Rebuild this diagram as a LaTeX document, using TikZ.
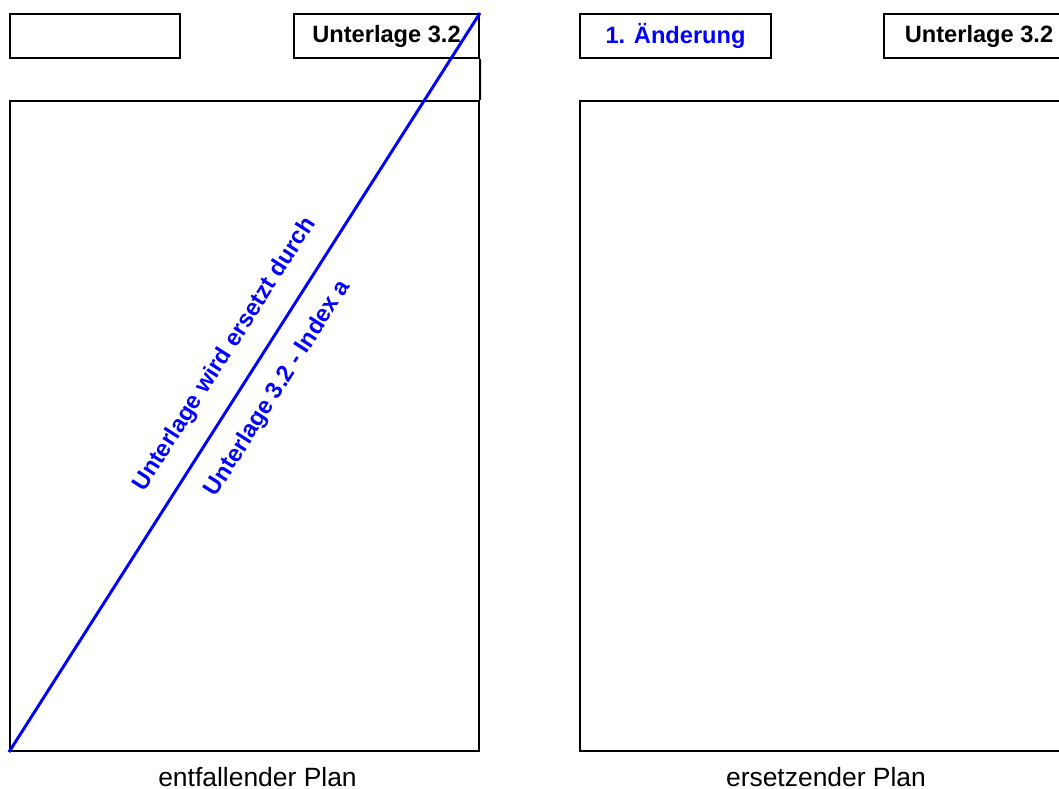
\documentclass[tikz,border=0pt]{standalone}
\usepackage{fontspec}
\setmainfont{Liberation Sans}
\usetikzlibrary{positioning}
\newcommand\schrift{\fontsize{16.8}{19}\selectfont}
\newcommand\unterschrift{\fontsize{18.8}{21}\selectfont}
\tikzset{
  feld/.style={rectangle,draw,line width=1.4pt,minimum height=1.1cm,inner sep=0pt,font=\schrift\bfseries},
  plan/.style={rectangle,draw,line width=1.4pt,minimum height=16.25cm},
  strich/.style={draw=blue,line width=2.1pt},
  vermerk/.style={text=blue,font=\schrift\bfseries,sloped,inner sep=0pt},
  planname/.style={inner sep=0pt,font=\unterschrift}
}
\begin{document}
\begin{tikzpicture}[x=0.025cm,y=-0.025cm,font=\schrift]
  \useasboundingbox (0,0) rectangle (1059,789);
  % entfallender Plan
  \node[feld,minimum width=4.25cm] (lleer) at (95,36) {};
  \node[feld,minimum width=4.625cm] (ltitel) at (386.5,36) {Unterlage 3.2};
  \node[plan,minimum width=11.725cm] (lplan) at (244.5,426) {};
  \draw[line width=1.4pt] (ltitel.south east) -- (lplan.north east);
  \draw[strich] (lplan.south west) -- (ltitel.north east)
    node[vermerk,pos=.515,above=0.475cm] (lvermerk) {Unterlage wird ersetzt durch}
    node[vermerk,pos=.515,below=0.475cm] (lindex) {Unterlage 3.2 - Index a};
  \node[planname,below=0.37cm of lplan,xshift=0.325cm] (lname) {entfallender Plan};
  % ersetzender Plan
  \node[feld,minimum width=4.775cm,text=blue] (raend) at (675.5,36) {1. Änderung};
  \node[feld,minimum width=4.75cm] (rtitel) at (979,36) {Unterlage 3.2};
  \node[plan,minimum width=12.3cm] (rplan) at (826,426) {};
  \node[planname,below=0.37cm of rplan] (rname) {ersetzender Plan};
\end{tikzpicture}
\end{document}
